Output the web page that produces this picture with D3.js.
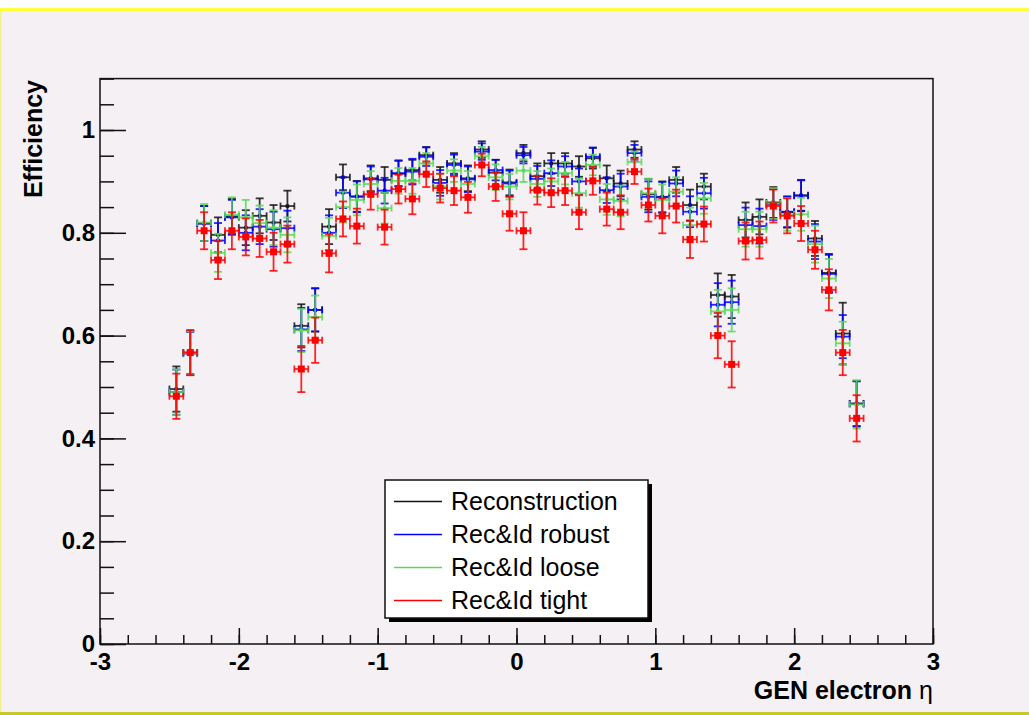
<!DOCTYPE html>
<html>
<head>
<meta charset="utf-8">
<script src="https://cdn.jsdelivr.net/npm/d3@7"></script>
<style>
    body { margin: 0; background: #f4f0f4; }
    svg { display: block; }
    .eg-tick-label { font-family: "Liberation Sans", Arial, Helvetica, sans-serif; font-size: 24px; font-weight: bold; fill: #000; }
    .eg-title { font-family: "Liberation Sans", Arial, Helvetica, sans-serif; font-size: 25px; font-weight: bold; fill: #000; }
    .eg-legend-text { font-family: "Liberation Sans", Arial, Helvetica, sans-serif; font-size: 25px; fill: #000; }
</style>
</head>
<body>
<svg id="eg-svg"></svg>
<script>
var width = 1029;
var height = 715;
var frame = { left: 100, right: 933, top: 78.6, bottom: 644 };

// bin centres in eta (bin width 0.1)
var etaCenters = [-2.45, -2.35, -2.25, -2.15, -2.05, -1.95, -1.85, -1.75, -1.65, -1.55,
    -1.45, -1.35, -1.25, -1.15, -1.05, -0.95, -0.85, -0.75, -0.65, -0.55,
    -0.45, -0.35, -0.25, -0.15, -0.05, 0.05, 0.15, 0.25, 0.35, 0.45,
    0.55, 0.65, 0.75, 0.85, 0.95, 1.05, 1.15, 1.25, 1.35, 1.45,
    1.55, 1.65, 1.75, 1.85, 1.95, 2.05, 2.15, 2.25, 2.35, 2.45];
var binHalfWidth = 0.05;

var effReco = [0.496, 0.567, 0.818, 0.796, 0.832, 0.81, 0.833, 0.82, 0.852, 0.619,
    0.65, 0.812, 0.908, 0.871, 0.906, 0.903, 0.915, 0.922, 0.951, 0.903,
    0.935, 0.906, 0.962, 0.917, 0.898, 0.955, 0.91, 0.935, 0.935, 0.929,
    0.945, 0.906, 0.896, 0.962, 0.875, 0.87, 0.903, 0.854, 0.89, 0.679,
    0.676, 0.825, 0.831, 0.859, 0.84, 0.873, 0.789, 0.722, 0.604, 0.468];
var errReco = [0.044, 0.042, 0.034, 0.034, 0.034, 0.034, 0.034, 0.034, 0.03, 0.042,
    0.042, 0.034, 0.025, 0.03, 0.025, 0.025, 0.025, 0.02, 0.016, 0.025,
    0.02, 0.025, 0.016, 0.025, 0.025, 0.016, 0.025, 0.02, 0.02, 0.02,
    0.02, 0.025, 0.025, 0.016, 0.03, 0.03, 0.025, 0.03, 0.025, 0.042,
    0.042, 0.034, 0.034, 0.03, 0.03, 0.03, 0.034, 0.037, 0.06, 0.044];

var effRobust = [0.49, 0.565, 0.818, 0.785, 0.83, 0.80, 0.812, 0.807, 0.809, 0.612,
    0.65, 0.80, 0.878, 0.87, 0.904, 0.882, 0.916, 0.919, 0.948, 0.897,
    0.932, 0.904, 0.958, 0.922, 0.896, 0.951, 0.905, 0.916, 0.929, 0.90,
    0.948, 0.883, 0.89, 0.955, 0.87, 0.869, 0.896, 0.841, 0.877, 0.66,
    0.665, 0.815, 0.813, 0.855, 0.841, 0.872, 0.783, 0.72, 0.598, 0.467];
var errRobust = [0.044, 0.042, 0.034, 0.034, 0.034, 0.034, 0.034, 0.034, 0.034, 0.042,
    0.042, 0.034, 0.03, 0.03, 0.025, 0.025, 0.025, 0.025, 0.018, 0.025,
    0.02, 0.025, 0.016, 0.02, 0.025, 0.016, 0.025, 0.025, 0.02, 0.025,
    0.018, 0.025, 0.025, 0.016, 0.03, 0.03, 0.025, 0.03, 0.03, 0.042,
    0.042, 0.034, 0.034, 0.03, 0.03, 0.03, 0.034, 0.037, 0.042, 0.044];

var effLoose = [0.49, 0.566, 0.82, 0.761, 0.835, 0.83, 0.819, 0.81, 0.796, 0.61,
    0.636, 0.794, 0.85, 0.864, 0.895, 0.848, 0.901, 0.901, 0.935, 0.89,
    0.921, 0.895, 0.949, 0.908, 0.89, 0.921, 0.895, 0.9, 0.916, 0.877,
    0.932, 0.865, 0.862, 0.938, 0.877, 0.864, 0.88, 0.815, 0.867, 0.647,
    0.65, 0.807, 0.807, 0.857, 0.836, 0.836, 0.778, 0.711, 0.585, 0.466];
var errLoose = [0.044, 0.042, 0.036, 0.037, 0.034, 0.034, 0.034, 0.034, 0.034, 0.042,
    0.042, 0.035, 0.03, 0.03, 0.025, 0.03, 0.025, 0.025, 0.02, 0.025,
    0.022, 0.025, 0.018, 0.025, 0.025, 0.022, 0.025, 0.025, 0.022, 0.028,
    0.02, 0.03, 0.03, 0.02, 0.028, 0.03, 0.028, 0.034, 0.03, 0.042,
    0.042, 0.034, 0.034, 0.03, 0.032, 0.032, 0.036, 0.038, 0.042, 0.047];

var effTight = [0.482, 0.567, 0.804, 0.747, 0.804, 0.792, 0.789, 0.763, 0.778, 0.535,
    0.591, 0.76, 0.827, 0.813, 0.875, 0.811, 0.885, 0.866, 0.914, 0.887,
    0.882, 0.869, 0.932, 0.89, 0.837, 0.804, 0.883, 0.878, 0.882, 0.84,
    0.901, 0.846, 0.84, 0.919, 0.854, 0.833, 0.852, 0.787, 0.817, 0.6,
    0.544, 0.784, 0.786, 0.852, 0.833, 0.818, 0.767, 0.689, 0.567, 0.439];
var errTight = [0.044, 0.044, 0.036, 0.037, 0.036, 0.036, 0.036, 0.037, 0.036, 0.045,
    0.044, 0.037, 0.034, 0.034, 0.03, 0.034, 0.028, 0.03, 0.025, 0.028,
    0.028, 0.03, 0.022, 0.028, 0.033, 0.036, 0.028, 0.028, 0.028, 0.033,
    0.027, 0.032, 0.033, 0.024, 0.032, 0.034, 0.032, 0.036, 0.034, 0.044,
    0.045, 0.036, 0.036, 0.032, 0.034, 0.034, 0.037, 0.04, 0.044, 0.045];

var seriesNames = ["Reconstruction", "Rec&Id robust", "Rec&Id loose", "Rec&Id tight"];
var seriesColors = ["rgb(20,20,20)", "rgb(0,0,255)", "rgb(85,220,85)", "rgb(255,0,0)"];
var seriesEff = [effReco, effRobust, effLoose, effTight];
var seriesErr = [errReco, errRobust, errLoose, errTight];
var markerSizes = [3.5, 3.5, 3.5, 7];

var xMajorTicks = [-3, -2, -1, 0, 1, 2, 3];
var xTickLabels = ["-3", "-2", "-1", "0", "1", "2", "3"];
var yMajorTicks = [0, 0.2, 0.4, 0.6, 0.8, 1];
var yTickLabels = ["0", "0.2", "0.4", "0.6", "0.8", "1"];

var svg = d3.select("#eg-svg")
    .attr("width", width)
    .attr("height", height);

var xScale = d3.scaleLinear()
    .domain([-3, 3])
    .range([frame.left, frame.right]);
var yScale = d3.scaleLinear()
    .domain([0, 1.1])
    .range([frame.bottom, frame.top]);

function drawCanvas() {
    svg.append("rect")
        .attr("width", width)
        .attr("height", height)
        .attr("fill", "#f4f0f4");
    // highlighted pad border like the ROOT canvas
    svg.append("rect")
        .attr("width", width)
        .attr("height", 8)
        .attr("fill", "#ffffff");
    svg.append("rect")
        .attr("y", 8)
        .attr("width", width)
        .attr("height", 3)
        .attr("fill", "#ffff3c");
    svg.append("rect")
        .attr("y", 11)
        .attr("width", 1.5)
        .attr("height", 701)
        .attr("fill", "#f4f08c");
    svg.append("rect")
        .attr("y", 712)
        .attr("width", width)
        .attr("height", 3)
        .attr("fill", "#c8c828");
}

function drawAxes() {
    var xAxis = d3.axisBottom(xScale)
        .tickValues(xMajorTicks)
        .tickFormat(function(d, i) { return xTickLabels[i]; })
        .tickSize(-16)
        .tickSizeOuter(0)
        .tickPadding(9);
    var xMinor = d3.axisBottom(xScale)
        .tickValues(d3.range(-3, 3.0001, 0.2))
        .tickFormat("")
        .tickSize(-9)
        .tickSizeOuter(0);
    var yAxis = d3.axisLeft(yScale)
        .tickValues(yMajorTicks)
        .tickFormat(function(d, i) { return yTickLabels[i]; })
        .tickSize(-26)
        .tickSizeOuter(0)
        .tickPadding(5);
    var yMinor = d3.axisLeft(yScale)
        .tickValues(d3.range(0, 1.1001, 0.05))
        .tickFormat("")
        .tickSize(-14)
        .tickSizeOuter(0);

    svg.append("g")
        .attr("transform", "translate(0," + frame.bottom + ")")
        .call(xMinor)
        .call(g => g.select(".domain").remove());
    svg.append("g")
        .attr("class", "x-axis")
        .attr("transform", "translate(0," + frame.bottom + ")")
        .call(xAxis)
        .call(g => g.select(".domain").remove());
    svg.append("g")
        .attr("transform", "translate(" + frame.left + ",0)")
        .call(yMinor)
        .call(g => g.select(".domain").remove());
    svg.append("g")
        .attr("class", "y-axis")
        .attr("transform", "translate(" + frame.left + ",0)")
        .call(yAxis)
        .call(g => g.select(".domain").remove());

    svg.selectAll(".tick line")
        .attr("stroke", "#111")
        .attr("stroke-width", 1.5);
    svg.selectAll(".x-axis text, .y-axis text")
        .attr("class", "eg-tick-label")
        .attr("font-family", null)
        .attr("font-size", null);

    // frame
    svg.append("rect")
        .attr("x", frame.left)
        .attr("y", frame.top)
        .attr("width", frame.right - frame.left)
        .attr("height", frame.bottom - frame.top)
        .attr("fill", "none")
        .attr("stroke", "#111")
        .attr("stroke-width", 1.5);

    var xTitle = svg.append("text")
        .attr("class", "eg-title")
        .attr("x", frame.right)
        .attr("y", 699)
        .attr("text-anchor", "end");
    xTitle.append("tspan").text("GEN electron ");
    xTitle.append("tspan").attr("font-weight", "normal").text("\u03b7");

    svg.append("text")
        .attr("class", "eg-title")
        .attr("transform", "translate(42,80) rotate(-90)")
        .attr("text-anchor", "end")
        .text("Efficiency");
}

function drawSeries() {
    seriesEff.forEach(function(eff, s) {
        var color = seriesColors[s];
        var pts = etaCenters.map(function(c, i) {
            return { eta: c, eff: eff[i], err: seriesErr[s][i] };
        });
        var g = svg.append("g")
            .attr("class", "eg-series")
            .attr("stroke", color)
            .attr("stroke-width", 1.8)
            .attr("stroke-opacity", 0.85)
            .attr("fill", color);
        var pt = g.selectAll("g")
            .data(pts)
            .enter()
            .append("g");
        // vertical error bar + caps
        pt.append("line")
            .attr("x1", d => xScale(d.eta))
            .attr("x2", d => xScale(d.eta))
            .attr("y1", d => yScale(d.eff - d.err))
            .attr("y2", d => yScale(d.eff + d.err));
        pt.append("line")
            .attr("x1", d => xScale(d.eta) - 4)
            .attr("x2", d => xScale(d.eta) + 4)
            .attr("y1", d => yScale(d.eff + d.err))
            .attr("y2", d => yScale(d.eff + d.err));
        pt.append("line")
            .attr("x1", d => xScale(d.eta) - 4)
            .attr("x2", d => xScale(d.eta) + 4)
            .attr("y1", d => yScale(d.eff - d.err))
            .attr("y2", d => yScale(d.eff - d.err));
        // horizontal bin bar + caps
        pt.append("line")
            .attr("x1", d => xScale(d.eta - binHalfWidth))
            .attr("x2", d => xScale(d.eta + binHalfWidth))
            .attr("y1", d => yScale(d.eff))
            .attr("y2", d => yScale(d.eff));
        pt.append("line")
            .attr("x1", d => xScale(d.eta - binHalfWidth))
            .attr("x2", d => xScale(d.eta - binHalfWidth))
            .attr("y1", d => yScale(d.eff) - 3.5)
            .attr("y2", d => yScale(d.eff) + 3.5);
        pt.append("line")
            .attr("x1", d => xScale(d.eta + binHalfWidth))
            .attr("x2", d => xScale(d.eta + binHalfWidth))
            .attr("y1", d => yScale(d.eff) - 3.5)
            .attr("y2", d => yScale(d.eff) + 3.5);
        pt.append("rect")
            .attr("x", d => xScale(d.eta) - markerSizes[s] / 2)
            .attr("y", d => yScale(d.eff) - markerSizes[s] / 2)
            .attr("width", markerSizes[s])
            .attr("height", markerSizes[s])
            .attr("stroke", "none");
    });
}

function drawLegend() {
    var box = { x: 385, y: 480, w: 263, h: 138 };
    svg.append("rect")
        .attr("x", box.x + 4)
        .attr("y", box.y + 4)
        .attr("width", box.w)
        .attr("height", box.h)
        .attr("fill", "#000");
    svg.append("rect")
        .attr("x", box.x)
        .attr("y", box.y)
        .attr("width", box.w)
        .attr("height", box.h)
        .attr("fill", "#fff")
        .attr("stroke", "#111")
        .attr("stroke-width", 1.5);
    seriesNames.forEach(function(name, i) {
        var yc = 501.5 + i * 33;
        svg.append("line")
            .attr("x1", box.x + 9)
            .attr("x2", box.x + 57)
            .attr("y1", yc)
            .attr("y2", yc)
            .attr("stroke", seriesColors[i])
            .attr("stroke-width", 1.3);
        svg.append("text")
            .attr("class", "eg-legend-text")
            .attr("x", box.x + 66)
            .attr("y", yc + 8.5)
            .text(name);
    });
}

drawCanvas();
drawAxes();
drawSeries();
drawLegend();
</script>
</body>
</html>
